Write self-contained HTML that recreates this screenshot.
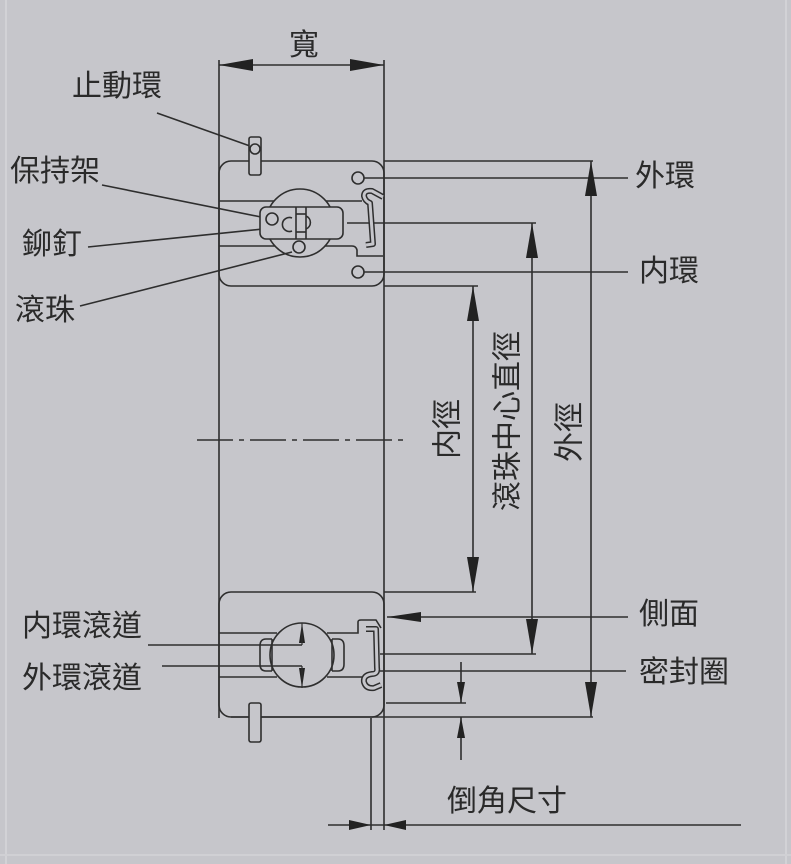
<!DOCTYPE html>
<html>
<head>
<meta charset="utf-8">
<style>
  html,body{margin:0;padding:0;background:#c6c6cb;}
  svg{display:block;}
  text{font-family:"Liberation Sans","Noto Sans CJK TC","Noto Sans CJK SC",sans-serif;font-size:30px;fill:#2a2a2a;}
</style>
</head>
<body>
<svg width="791" height="864" viewBox="0 0 791 864" xmlns="http://www.w3.org/2000/svg">
  <rect x="0" y="0" width="791" height="864" fill="#c6c6cb"/>
  <rect x="5" y="0" width="2" height="864" fill="#d2d2d6"/>
  <rect x="785" y="0" width="2" height="864" fill="#d2d2d6"/>
  <rect x="0" y="854" width="791" height="2" fill="#d0d0d4"/>

  <g stroke="#2e2e2e" stroke-width="1.6" fill="none">
    <!-- main verticals -->
    <line x1="219" y1="60" x2="219" y2="718"/>
    <line x1="384" y1="60" x2="384" y2="830"/>
    <!-- width dimension -->
    <line x1="219" y1="65" x2="384" y2="65"/>

    <!-- top box -->
    <rect x="219" y="161" width="165" height="125" rx="12"/>
    <!-- bottom box -->
    <rect x="219" y="592" width="165" height="125" rx="12"/>

    <!-- centre dash-dot line -->
    <line x1="197" y1="440" x2="407" y2="440" stroke-dasharray="36,6,5,6"/>

    <!-- extension lines right -->
    <line x1="384" y1="161" x2="593" y2="161"/>
    <line x1="364" y1="178" x2="628" y2="178"/>
    <line x1="347" y1="223" x2="536" y2="223"/>
    <line x1="364" y1="272" x2="628" y2="272"/>
    <line x1="384" y1="286" x2="478" y2="286"/>
    <line x1="384" y1="592" x2="476" y2="592"/>
    <line x1="387" y1="617" x2="628" y2="617"/>
    <line x1="380" y1="654" x2="536" y2="654"/>
    <line x1="380" y1="671" x2="626" y2="671"/>
    <line x1="386" y1="703" x2="466" y2="703"/>
    <line x1="231" y1="717" x2="593" y2="717"/>

    <!-- dimension verticals -->
    <line x1="473" y1="286" x2="473" y2="592"/>
    <line x1="532" y1="223" x2="532" y2="654"/>
    <line x1="591" y1="161" x2="591" y2="717"/>
    <line x1="461" y1="662" x2="461" y2="703"/>
    <line x1="461" y1="717" x2="461" y2="760"/>

    <!-- chamfer bottom -->
    <line x1="371" y1="718" x2="371" y2="830"/>
    <line x1="328" y1="825" x2="741" y2="825"/>

    <!-- leader lines left -->
    <line x1="157" y1="113" x2="250" y2="146"/>
    <line x1="102" y1="185" x2="266" y2="218"/>
    <line x1="88" y1="247" x2="282" y2="227"/>
    <line x1="80" y1="306" x2="292" y2="252"/>
    <line x1="148" y1="645" x2="302" y2="645"/>
    <line x1="162" y1="666" x2="302" y2="666"/>

    <!-- top box internals -->
    <line x1="219" y1="201" x2="274" y2="201"/>
    <line x1="326" y1="201" x2="362" y2="201"/>
    <line x1="219" y1="246" x2="275" y2="246"/>
    <path d="M325,246 L352,246 Q356,246 357,250 L357,256 L383,256"/>
    <circle cx="300" cy="223" r="34"/>
    <rect x="260" y="207" width="83" height="32" rx="6" fill="#c6c6cb"/>
    <line x1="296" y1="207" x2="296" y2="239"/>
    <line x1="306" y1="207" x2="306" y2="239"/>
    <line x1="296" y1="214" x2="306" y2="214"/>
    <line x1="296" y1="232" x2="306" y2="232"/>
    <circle cx="272" cy="219" r="6"/>
    <path d="M292,218 A7,7 0 1,0 292,231"/>
    <path d="M306,216 A7,7 0 0,1 306,229"/>
    <circle cx="299" cy="247" r="6" fill="#c6c6cb"/>
    <circle cx="358" cy="178" r="6" fill="#c6c6cb"/>
    <circle cx="358" cy="272" r="6" fill="#c6c6cb"/>
    <!-- stop ring top -->
    <rect x="249" y="137" width="12" height="38" rx="2" fill="#c6c6cb"/>
    <circle cx="255" cy="149" r="5"/>
  </g>

  <!-- seal top (double outline) -->
  <path d="M383,197 L372,191 Q364,190 364,196 Q365,201 370,203 L373,244 L366,245" fill="none" stroke="#2e2e2e" stroke-width="6" stroke-linejoin="round"/>
  <path d="M383,197 L372,191 Q364,190 364,196 Q365,201 370,203 L373,244 L366,245" fill="none" stroke="#c6c6cb" stroke-width="3" stroke-linejoin="round"/>

  <g stroke="#2e2e2e" stroke-width="1.6" fill="none">
    <!-- bottom box internals -->
    <line x1="219" y1="633" x2="277" y2="633"/>
    <path d="M327,633 L358,633 L358,622 Q358,620 361,620 L376,620 L381,628"/>
    <line x1="219" y1="677" x2="277" y2="677"/>
    <line x1="327" y1="677" x2="362" y2="677"/>
    <circle cx="302" cy="655" r="32"/>
    <path d="M272,639 L266,639 Q260,639 260,646 L260,664 Q260,671 266,671 L272,671"/>
    <line x1="272" y1="639" x2="272" y2="671"/>
    <path d="M332,639 L338,639 Q344,639 344,646 L344,664 Q344,671 338,671 L332,671"/>
    <line x1="332" y1="639" x2="332" y2="671"/>
    <!-- stop ring bottom -->
    <rect x="249" y="703" width="12" height="39" rx="2" fill="#c6c6cb"/>
  </g>

  <!-- seal bottom (double outline) -->
  <path d="M366,629 L376,629 L377,668 Q378,674 372,674 Q363,675 364,682 Q366,689 374,688 L381,685" fill="none" stroke="#2e2e2e" stroke-width="6" stroke-linejoin="round"/>
  <path d="M366,629 L376,629 L377,668 Q378,674 372,674 Q363,675 364,682 Q366,689 374,688 L381,685" fill="none" stroke="#c6c6cb" stroke-width="3" stroke-linejoin="round"/>

  <!-- arrowheads -->
  <g fill="#222" stroke="none">
    <!-- width -->
    <polygon points="219,65 253,59 253,71"/>
    <polygon points="384,65 350,59 350,71"/>
    <!-- inner diameter -->
    <polygon points="473,286 467,321 479,321"/>
    <polygon points="473,592 467,557 479,557"/>
    <!-- ball center diameter -->
    <polygon points="532,223 526,258 538,258"/>
    <polygon points="532,654 526,619 538,619"/>
    <!-- outer diameter -->
    <polygon points="591,161 585,196 597,196"/>
    <polygon points="591,717 585,682 597,682"/>
    <!-- side face arrow -->
    <polygon points="387,617 421,612 421,622"/>
    <!-- chamfer vertical -->
    <polygon points="461,703 457,682 465,682"/>
    <polygon points="461,717 457,738 465,738"/>
    <!-- chamfer horizontal -->
    <polygon points="371,825 349,820 349,830"/>
    <polygon points="384,825 406,820 406,830"/>
    <!-- raceway arrows inside ball -->
    <polygon points="302,623 299,643 305,643"/>
    <polygon points="302,688 299,668 305,668"/>
  </g>
  <line x1="302" y1="623" x2="302" y2="645" stroke="#2e2e2e" stroke-width="1.2"/>
  <line x1="302" y1="666" x2="302" y2="688" stroke="#2e2e2e" stroke-width="1.2"/>

  <!-- labels -->
  <text x="289" y="55">寬</text>
  <text x="72" y="96">止動環</text>
  <text x="10" y="181">保持架</text>
  <text x="22" y="254">鉚釘</text>
  <text x="15" y="320">滾珠</text>
  <text x="635" y="186">外環</text>
  <text x="639" y="281">内環</text>
  <text x="639" y="624">側面</text>
  <text x="639" y="682">密封圈</text>
  <text x="22" y="636">内環滾道</text>
  <text x="22" y="688">外環滾道</text>
  <text x="447" y="811">倒角尺寸</text>

  <text transform="translate(448,429) rotate(-90)" text-anchor="middle" dominant-baseline="central">内徑</text>
  <text transform="translate(508,421) rotate(-90)" text-anchor="middle" dominant-baseline="central">滾珠中心直徑</text>
  <text transform="translate(570,432) rotate(-90)" text-anchor="middle" dominant-baseline="central">外徑</text>
</svg>
</body>
</html>
